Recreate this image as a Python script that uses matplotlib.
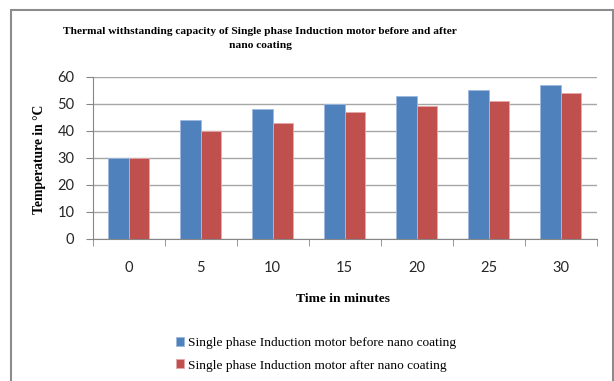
import matplotlib.pyplot as plt
import numpy as np
from matplotlib.patches import Rectangle

# Data
minutes = ['0', '5', '10', '15', '20', '25', '30']
before_coating = [30, 44, 48, 50, 53, 55, 57]
after_coating = [30, 40, 43, 47, 49, 51, 54]

W, H = 614, 381
fig = plt.figure(figsize=(W / 100, H / 100), dpi=100)

# axes placed in pixel terms of the original picture
left, right, top, bottom = 92.5, 596.5, 76.7, 239
ax = fig.add_axes([left / W, 1 - bottom / H, (right - left) / W, (bottom - top) / H])

x = np.arange(len(minutes))
bw = 0.29
ax.bar(x - bw / 2, before_coating, bw, color='#4F81BD', edgecolor='#9DB8DC', linewidth=0.6,
       label='Single phase Induction motor before nano coating', zorder=3)
ax.bar(x + bw / 2, after_coating, bw, color='#C0504D', edgecolor='#E4A9A8', linewidth=0.6,
       label='Single phase Induction motor after nano coating', zorder=3)

ax.set_xlim(-0.5, len(minutes) - 0.5)
ax.set_ylim(0, 60)
ax.set_yticks(range(0, 61, 10))
ax.yaxis.grid(True, color='#A6A6A6', linewidth=1.0, zorder=0)

# category ticks sit between groups
ax.set_xticks(x)
ax.set_xticklabels(minutes)
ax.set_xticks(np.arange(-0.5, len(minutes), 1), minor=True)
ax.tick_params(axis='x', which='major', length=0, pad=16)
ax.tick_params(axis='x', which='minor', length=5, color='#868686', direction='out')
ax.tick_params(axis='y', length=5, color='#868686', direction='out', pad=8)
for lab in ax.get_xticklabels() + ax.get_yticklabels():
    lab.set_fontfamily('Lato')
    lab.set_fontsize(10.5)
    lab.set_color('#262626')

for s in ['top', 'right']:
    ax.spines[s].set_visible(False)
ax.spines['left'].set_color('#868686')
ax.spines['bottom'].set_color('#868686')

serif = 'Liberation Serif'
fig.text(260 / W, 1 - 38.5 / H, 'Thermal withstanding capacity of Single phase Induction motor before and after\nnano coating',
         ha='center', va='center', fontsize=8.2, fontweight='bold', family=serif, linespacing=1.6)
fig.text(40 / W, 1 - 159 / H, 'Temperature in \u00b0C', rotation=90, ha='center', va='center',
         fontsize=9.8, fontweight='bold', family=serif)
fig.text(343 / W, 1 - 299 / H, 'Time in minutes', ha='center', va='center',
         fontsize=9.7, fontweight='bold', family=serif)

fig.legend(loc='upper left', bbox_to_anchor=(169 / W, 1 - 330 / H), frameon=False,
           prop={'family': serif, 'size': 9.6}, handlelength=0.65, handleheight=0.65,
           handletextpad=0.3, labelspacing=0.8, borderpad=0)

# outer chart frame
fig.patches.append(Rectangle((11 / W, -0.01), (613 - 11) / W, 1 - 10 / H + 0.01,
                             transform=fig.transFigure, fill=False, edgecolor='#8C8C8C', linewidth=1.5))

fig.savefig('out.png', dpi=100)
